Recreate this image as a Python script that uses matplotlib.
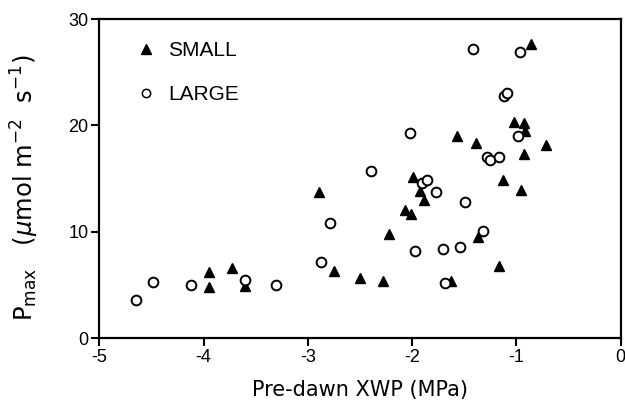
import matplotlib
matplotlib.use("Agg")
import matplotlib.pyplot as plt
from matplotlib.lines import Line2D

# SMALL (filled triangles)
small_x = [-3.95, -3.95, -3.73, -3.60, -2.89, -2.75, -2.50, -2.28, -2.22, -2.07,
           -2.01, -1.99, -1.92, -1.89, -1.57, -1.39, -1.37, -1.63, -1.17, -1.13,
           -1.02, -0.93, -0.92, -0.93, -0.96, -0.72, -0.86]
small_y = [6.24, 4.77, 6.58, 4.89, 13.71, 6.27, 5.67, 5.39, 9.81, 12.0,
           11.64, 15.1, 13.86, 12.98, 19.0, 18.31, 9.47, 5.36, 6.8, 14.86,
           20.27, 20.2, 19.5, 17.28, 13.92, 18.16, 27.66]

# LARGE (open circles)
large_x = [-4.65, -4.49, -4.12, -3.60, -3.31, -2.87, -2.79, -2.39, -2.02, -1.975,
           -1.91, -1.86, -1.77, -1.70, -1.68, -1.54, -1.49, -1.32, -1.28, -1.25,
           -1.17, -1.42, -0.97, -1.12, -1.09, -0.98]
large_y = [3.57, 5.27, 4.99, 5.46, 5.01, 7.15, 10.79, 15.71, 19.29, 8.18,
           14.6, 14.86, 13.73, 8.35, 5.14, 8.53, 12.79, 10.04, 17.06, 16.75,
           17.03, 27.19, 26.87, 22.79, 23.08, 19.0]

x_ticks = [-5, -4, -3, -2, -1, 0]
y_ticks = [0, 10, 20, 30]

fig = plt.figure(figsize=(6.25, 4.15), dpi=100)
ax = fig.add_axes([0.159, 0.1855, 0.834, 0.7687])

ax.plot(small_x, small_y, linestyle='none', marker='^', color='black',
        markersize=7.5, label='SMALL')
ax.plot(large_x, large_y, linestyle='none', marker='o', markerfacecolor='white',
        markeredgecolor='black', markeredgewidth=1.4, markersize=7, label='LARGE')

ax.set_xlim(-5, 0)
ax.set_ylim(0, 30)
ax.set_xticks(x_ticks)
ax.set_yticks(y_ticks)
ax.set_xticklabels([str(v) for v in x_ticks], family='Liberation Sans', fontsize=13)
ax.set_yticklabels([str(v) for v in y_ticks], family='Liberation Sans', fontsize=13)
ax.tick_params(direction='out', length=6, width=1.5, pad=2)
for s in ax.spines.values():
    s.set_linewidth(1.6)

ax.set_xlabel('Pre-dawn XWP (MPa)', family='DejaVu Sans', fontsize=15, labelpad=10)
ax.set_ylabel(r'P$_{\rm max}$   ($\mu$mol m$^{-2}$  s$^{-1}$)', family='DejaVu Sans',
              fontsize=17.5)
ax.yaxis.set_label_coords(-0.112, 0.47)

handles = [Line2D([], [], linestyle='none', marker='^', color='black', markersize=6.5),
           Line2D([], [], linestyle='none', marker='o', markerfacecolor='white',
                  markeredgecolor='black', markeredgewidth=1.1, markersize=6)]
ax.legend(handles, ['SMALL', 'LARGE'], loc='upper left', bbox_to_anchor=(0.03, 0.99),
          frameon=False, prop={'family': 'Liberation Sans', 'size': 15},
          labelspacing=1.2, handletextpad=0.45, handlelength=1.2)

fig.savefig('out.png', dpi=100)
